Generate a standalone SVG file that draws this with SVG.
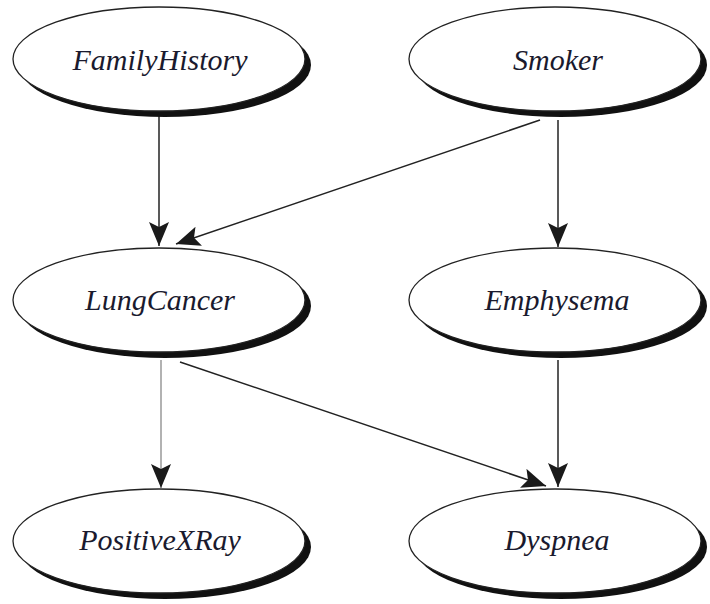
<svg xmlns="http://www.w3.org/2000/svg" width="710" height="604" viewBox="0 0 710 604">
<defs>
<style>
.shadow{fill:#111;}
.body{fill:#fff;stroke:#222;stroke-width:1.3;}
.lbl{font-family:"Liberation Serif","Times New Roman",serif;font-style:italic;font-size:30px;fill:#1a1a2e;text-anchor:middle;}
.edge{stroke:#222;stroke-width:1.5;fill:none;marker-end:url(#ah);}
.edge.gray{stroke:#999;}
</style>
<marker id="ah" markerUnits="userSpaceOnUse" markerWidth="26" markerHeight="22" refX="24" refY="10" orient="auto">
<path d="M0,0 L24,10 L0,20 L5,10 z" fill="#1a1a1a"/>
</marker>
</defs>
<g id="connectors">
<line class="edge" x1="159" y1="113" x2="159" y2="246"/>
<line class="edge" x1="540" y1="120" x2="176" y2="244"/>
<line class="edge" x1="558" y1="120" x2="558" y2="247"/>
<line class="edge gray" x1="161" y1="360" x2="161" y2="488"/>
<line class="edge" x1="180" y1="362" x2="546" y2="486"/>
<line class="edge" x1="558" y1="360" x2="558" y2="487"/>
</g>
<g id="FamilyHistory">
<ellipse class="shadow" cx="165" cy="65" rx="146" ry="52"/>
<ellipse class="body" cx="159" cy="59" rx="146" ry="52"/>
<text class="lbl" x="160" y="70">FamilyHistory</text>
</g>
<g id="Smoker">
<ellipse class="shadow" cx="561" cy="65" rx="146" ry="52"/>
<ellipse class="body" cx="555" cy="59" rx="146" ry="52"/>
<text class="lbl" x="558" y="70">Smoker</text>
</g>
<g id="LungCancer">
<ellipse class="shadow" cx="165" cy="306" rx="146" ry="52"/>
<ellipse class="body" cx="159" cy="300" rx="146" ry="52"/>
<text class="lbl" x="160" y="310">LungCancer</text>
</g>
<g id="Emphysema">
<ellipse class="shadow" cx="561" cy="306" rx="146" ry="52"/>
<ellipse class="body" cx="555" cy="300" rx="146" ry="52"/>
<text class="lbl" x="557" y="310">Emphysema</text>
</g>
<g id="PositiveXRay">
<ellipse class="shadow" cx="165" cy="547" rx="146" ry="52"/>
<ellipse class="body" cx="159" cy="541" rx="146" ry="52"/>
<text class="lbl" x="160" y="550">PositiveXRay</text>
</g>
<g id="Dyspnea">
<ellipse class="shadow" cx="561" cy="547" rx="146" ry="52"/>
<ellipse class="body" cx="555" cy="541" rx="146" ry="52"/>
<text class="lbl" x="557" y="550">Dyspnea</text>
</g>
</svg>
